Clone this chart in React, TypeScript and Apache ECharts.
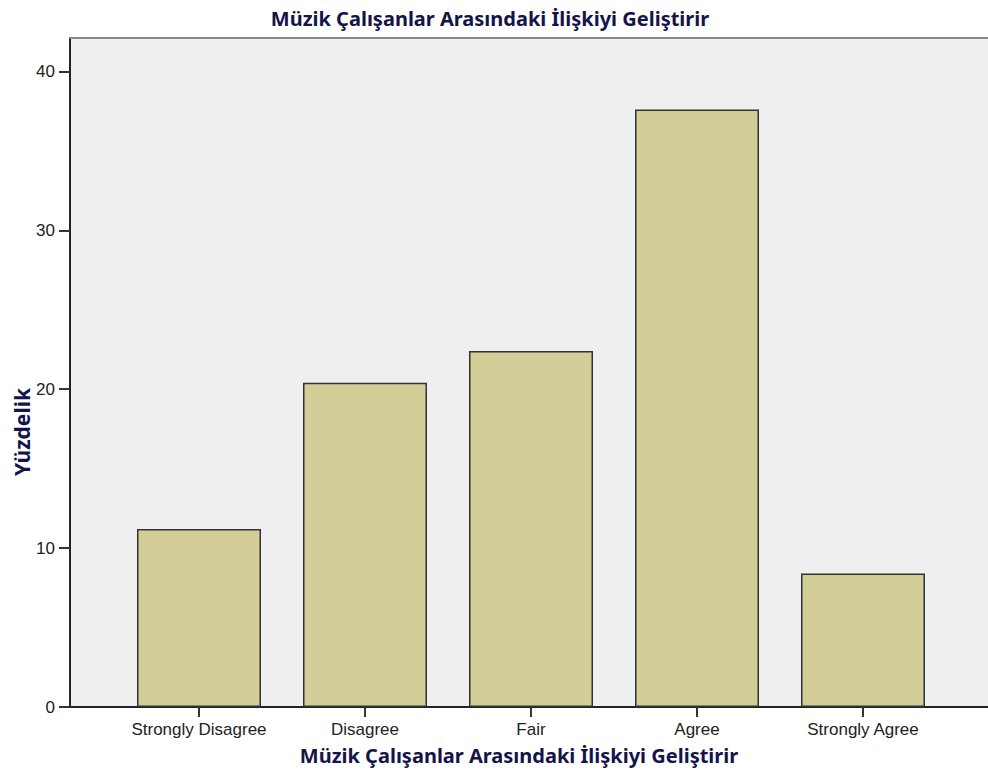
import React, { useEffect, useRef } from "react";
import * as echarts from "echarts";

const titleText = "Müzik Çalışanlar Arasındaki İlişkiyi Geliştirir";
const xAxisTitle = "Müzik Çalışanlar Arasındaki İlişkiyi Geliştirir";
const yAxisTitle = "Yüzdelik";
const categories = ["Strongly Disagree", "Disagree", "Fair", "Agree", "Strongly Agree"];
const percentages = [11.2, 20.4, 22.4, 37.6, 8.4];
const yMin = 0;
const yMax = 42.1;
const yInterval = 10;

const navy = "#14144a";
const titleFont = "'Noto Sans', 'Open Sans', sans-serif";
const tickFont = "'Liberation Sans', Arial, sans-serif";

export default function App() {
  const ref = useRef<HTMLDivElement | null>(null);
  useEffect(() => {
    if (!ref.current) return;
    const chart = echarts.init(ref.current, undefined, { renderer: "svg" });
    const top = 38;
    const bottom = 64;
    chart.setOption({
      animation: false,
      backgroundColor: "#ffffff",
      grid: [
        { left: 70, right: 0, top, bottom, show: true, backgroundColor: "#efefef", borderWidth: 0, containLabel: false },
        { left: 116, width: 830, top, bottom, containLabel: false },
      ],
      xAxis: [
        {
          gridIndex: 0,
          type: "category",
          data: [""],
          position: "bottom",
          axisLine: { show: true, lineStyle: { color: "#222", width: 2 } },
          axisTick: { show: false },
          axisLabel: { show: false },
          splitLine: { show: false },
        },
        {
          gridIndex: 0,
          type: "category",
          data: [""],
          position: "top",
          axisLine: { show: true, lineStyle: { color: "#8a8a8a", width: 2 } },
          axisTick: { show: false },
          axisLabel: { show: false },
          splitLine: { show: false },
        },
        {
          gridIndex: 1,
          type: "category",
          data: categories,
          position: "bottom",
          boundaryGap: true,
          axisLine: { show: false },
          axisTick: { show: true, alignWithLabel: true, length: 10, lineStyle: { color: "#333", width: 2 } },
          axisLabel: { show: true, interval: 0, margin: 14, fontFamily: tickFont, fontSize: 17, color: "#222" },
          splitLine: { show: false },
        },
      ],
      yAxis: [
        {
          gridIndex: 0,
          type: "value",
          min: yMin,
          max: yMax,
          interval: yInterval,
          axisLine: { show: true, lineStyle: { color: "#222", width: 2 } },
          axisTick: { show: true, length: 11, lineStyle: { color: "#333", width: 2 } },
          axisLabel: {
            show: true,
            margin: 15,
            fontFamily: tickFont,
            fontSize: 17,
            color: "#222",
            showMaxLabel: false,
          },
          splitLine: { show: false },
        },
        {
          gridIndex: 1,
          type: "value",
          min: yMin,
          max: yMax,
          interval: yInterval,
          show: false,
          splitLine: { show: false },
        },
      ],
      series: [
        {
          type: "bar",
          xAxisIndex: 2,
          yAxisIndex: 1,
          data: percentages,
          barWidth: 124,
          itemStyle: { color: "#d3ce97", borderColor: "#333333", borderWidth: 1.5 },
        },
      ],
      graphic: [
        {
          type: "text",
          x: 490,
          y: 18,
          style: {
            text: titleText,
            fontFamily: titleFont,
            fontWeight: "bold",
            fontSize: 20,
            fill: navy,
            textAlign: "center",
            textVerticalAlign: "middle",
          },
        },
        {
          type: "text",
          x: 519,
          y: 755,
          style: {
            text: xAxisTitle,
            fontFamily: titleFont,
            fontWeight: "bold",
            fontSize: 20,
            fill: navy,
            textAlign: "center",
            textVerticalAlign: "middle",
          },
        },
        {
          type: "text",
          x: 22,
          y: 432,
          rotation: Math.PI / 2,
          style: {
            text: yAxisTitle,
            fontFamily: titleFont,
            fontWeight: "bold",
            fontSize: 21,
            fill: navy,
            textAlign: "center",
            textVerticalAlign: "middle",
          },
        },
      ],
    });
    return () => chart.dispose();
  }, []);
  return (
    <div
      ref={ref}
      style={{ position: "absolute", left: 0, top: 0, width: 988, height: 771 }}
    />
  );
}
